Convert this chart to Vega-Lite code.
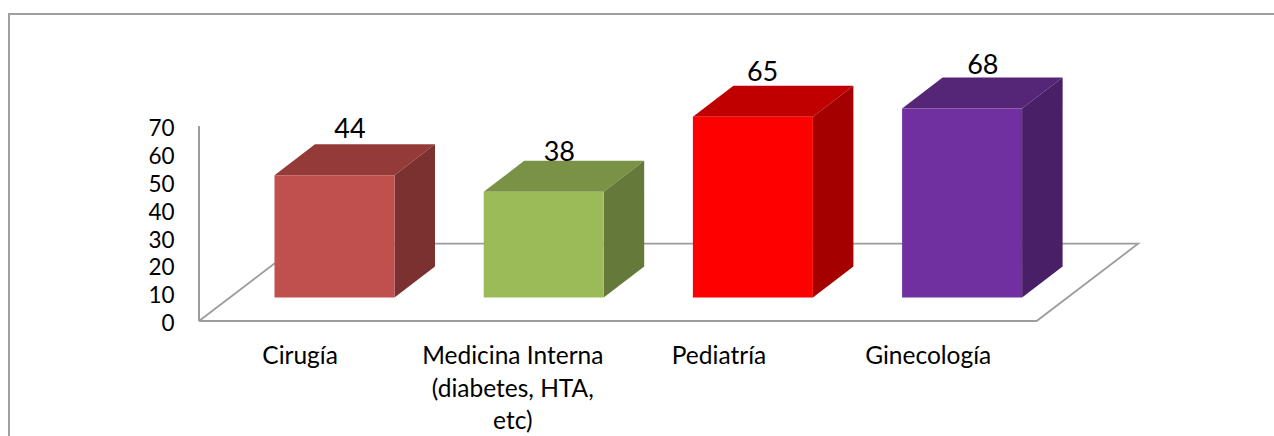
{
  "$schema": "https://vega.github.io/schema/vega-lite/v6.json",
  "width": 1266,
  "height": 423,
  "padding": {"left": 9, "top": 14, "right": 0, "bottom": 0},
  "autosize": "none",
  "background": "white",
  "config": {"view": {"stroke": "#A0A0A0", "strokeWidth": 2, "fill": "white"}},
  "data": {"values": [
    {"dept": "Cirugía", "value": 44},
    {"dept": "Medicina Interna\n(diabetes, HTA,\netc)", "value": 38},
    {"dept": "Pediatría", "value": 65},
    {"dept": "Ginecología", "value": 68}
  ]},
  "transform": [
    {"window": [{"op": "row_number", "as": "n"}]},
    {"calculate": "datum.n - 0.6391", "as": "x0"},
    {"calculate": "datum.x0 + 0.5736", "as": "x1"},
    {"calculate": "datum.n - 0.5", "as": "slotCentre"},
    {"calculate": "datum.value + 8.45", "as": "top"},
    {"calculate": "8.45", "as": "base"},
    {"calculate": "0", "as": "zero"}
  ],
  "resolve": {"scale": {"color": "independent"}, "axis": {"y": "independent"}},
  "layer": [
    {
      "description": "Floor of the 3D plot area",
      "data": {"values": [
        {"seq": 1, "u": 0, "v": 0},
        {"seq": 2, "u": 4.004, "v": 0},
        {"seq": 3, "u": 4.489, "v": 27.8},
        {"seq": 4, "u": 0.485, "v": 27.8},
        {"seq": 5, "u": 0, "v": 0}
      ]},
      "mark": {"type": "line", "color": "#9C9C9C", "strokeWidth": 1.8, "clip": false},
      "encoding": {
        "x": {"field": "u", "type": "quantitative", "scale": {"domain": [-0.9082, 5.1434], "nice": false, "zero": false}, "axis": null},
        "y": {"field": "v", "type": "quantitative", "scale": {"domain": [-41.73, 110.43], "nice": false, "zero": false},
          "axis": {"orient": "left", "title": null, "values": [0, 10, 20, 30, 40, 50, 60, 70], "offset": -165, "domain": false, "ticks": false, "grid": false,
            "labelPadding": 0, "labelFont": "Lato", "labelFontSize": 22.5, "labelOffset": 2.5, "labelColor": "#000000", "labelFlush": false, "labelOverlap": false}},
        "order": {"field": "seq", "type": "ordinal"}
      }
    },
    {
      "description": "Vertical value axis line",
      "mark": {"type": "rule", "color": "#9C9C9C", "strokeWidth": 1.8},
      "encoding": {
        "x": {"datum": 0, "type": "quantitative", "axis": null},
        "y": {"datum": 0, "type": "quantitative", "axis": null},
        "y2": {"datum": 70}
      }
    },
    {
      "description": "Top face of each column",
      "transform": [
        {"calculate": "[0, 1, 2, 3]", "as": "corner"},
        {"flatten": ["corner"]},
        {"calculate": "datum.x0 + [0, 0.1936, 0.5736, 0.7672][datum.corner]", "as": "fx"},
        {"calculate": "datum.top + [0, 11.15, 11.15, 11.15][datum.corner]", "as": "fy"},
        {"calculate": "datum.top + [0, 0, 0, 11.15][datum.corner]", "as": "fy2"}
      ],
      "mark": {"type": "area", "clip": false},
      "encoding": {
        "x": {"field": "fx", "type": "quantitative", "axis": null},
        "y": {"field": "fy", "type": "quantitative", "stack": null, "axis": null},
        "y2": {"field": "fy2"},
        "detail": {"field": "n"},
        "color": {"field": "n", "type": "ordinal", "legend": null,
          "scale": {"domain": [1, 2, 3, 4], "range": ["#943B39", "#7A9245", "#C00000", "#552578"]}}
      }
    },
    {
      "description": "Side face of each column",
      "transform": [
        {"calculate": "[0, 1]", "as": "corner"},
        {"flatten": ["corner"]},
        {"calculate": "datum.x1 + 0.1936 * datum.corner", "as": "fx"},
        {"calculate": "datum.top + 11.15 * datum.corner", "as": "fy"},
        {"calculate": "datum.base + 11.15 * datum.corner", "as": "fy2"}
      ],
      "mark": {"type": "area", "clip": false},
      "encoding": {
        "x": {"field": "fx", "type": "quantitative", "axis": null},
        "y": {"field": "fy", "type": "quantitative", "stack": null, "axis": null},
        "y2": {"field": "fy2"},
        "detail": {"field": "n"},
        "color": {"field": "n", "type": "ordinal", "legend": null,
          "scale": {"domain": [1, 2, 3, 4], "range": ["#7B312F", "#657A3A", "#A50000", "#491F67"]}}
      }
    },
    {
      "description": "Front face of each column",
      "mark": {"type": "rect", "clip": false},
      "encoding": {
        "x": {"field": "x0", "type": "quantitative", "axis": null},
        "x2": {"field": "x1"},
        "y": {"field": "top", "type": "quantitative", "axis": null},
        "y2": {"field": "base"},
        "color": {"field": "n", "type": "ordinal", "legend": null,
          "scale": {"domain": [1, 2, 3, 4], "range": ["#C0504D", "#9BBB59", "#FF0000", "#7030A0"]}}
      }
    },
    {
      "description": "Value labels above the columns",
      "transform": [
        {"calculate": "datum.x0 + 0.2868", "as": "mid"},
        {"calculate": "datum.top + 11.15", "as": "backTop"}
      ],
      "mark": {"type": "text", "font": "Lato", "fontSize": 27, "color": "#000000", "align": "center", "baseline": "alphabetic",
        "dx": {"expr": "[15.5, 15.6, 9.7, 20.7][datum.n - 1]"},
        "dy": {"expr": "[-6, 0, -5, -3][datum.n - 1]"}},
      "encoding": {
        "x": {"field": "mid", "type": "quantitative", "axis": null},
        "y": {"field": "backTop", "type": "quantitative", "axis": null},
        "text": {"field": "value", "type": "quantitative"}
      }
    },
    {
      "description": "Category labels under the floor",
      "mark": {"type": "text", "font": "Lato", "fontSize": 24.5, "color": "#000000", "align": "center", "baseline": "alphabetic",
        "lineBreak": "\n", "lineHeight": 32.5,
        "dx": {"expr": "[-3.5, 0, -3, -3][datum.n - 1]"},
        "dy": 43.5},
      "encoding": {
        "x": {"field": "slotCentre", "type": "quantitative", "axis": null},
        "y": {"field": "zero", "type": "quantitative", "axis": null},
        "text": {"field": "dept", "type": "nominal"}
      }
    }
  ]
}
